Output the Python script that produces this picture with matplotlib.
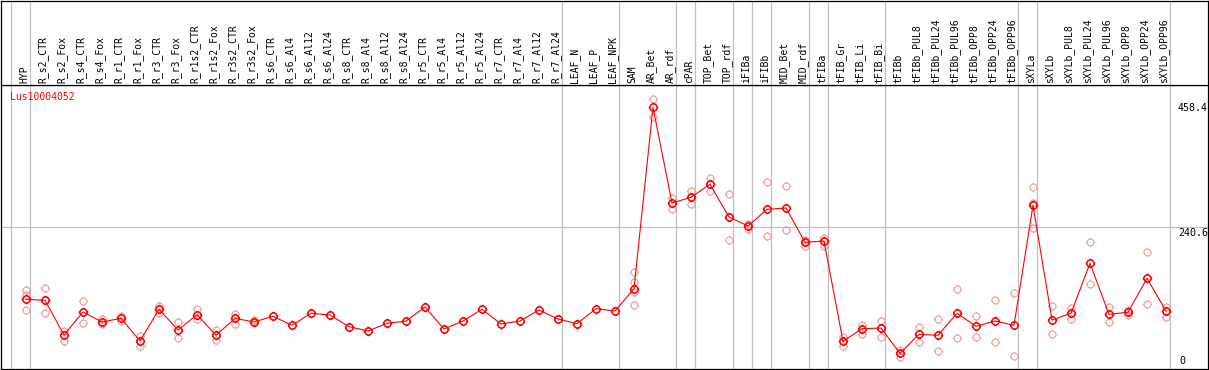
import matplotlib
matplotlib.use("Agg")
import matplotlib.pyplot as plt
from matplotlib.path import Path

gene = "Lus10004052"

samples = [
    "HYP",
    "R_s2_CTR", "R_s2_Fox", "R_s4_CTR", "R_s4_Fox", "R_r1_CTR", "R_r1_Fox",
    "R_r3_CTR", "R_r3_Fox", "R_r1s2_CTR", "R_r1s2_Fox", "R_r3s2_CTR", "R_r3s2_Fox",
    "R_s6_CTR", "R_s6_Al4", "R_s6_Al12", "R_s6_Al24",
    "R_s8_CTR", "R_s8_Al4", "R_s8_Al12", "R_s8_Al24",
    "R_r5_CTR", "R_r5_Al4", "R_r5_Al12", "R_r5_Al24",
    "R_r7_CTR", "R_r7_Al4", "R_r7_Al12", "R_r7_Al24",
    "LEAF_N", "LEAF_P", "LEAF_NPK",
    "SAM", "AR_Bet", "AR_rdf", "cPAR", "TOP_Bet", "TOP_rdf",
    "iFIBa", "iFIBb", "MID_Bet", "MID_rdf",
    "tFIBa", "tFIB_Gr", "tFIB_Li", "tFIB_Bi",
    "tFIBb", "tFIBb_PUL8", "tFIBb_PUL24", "tFIBb_PUL96",
    "tFIBb_OPP8", "tFIBb_OPP24", "tFIBb_OPP96",
    "sXYLa", "sXYLb", "sXYLb_PUL8", "sXYLb_PUL24", "sXYLb_PUL96",
    "sXYLb_OPP8", "sXYLb_OPP24", "sXYLb_OPP96",
]

means = [
    118.1,
    116.4, 57.6, 96.6, 79.7, 85.9, 47.5,
    101.2, 66.1, 92.0, 57.1, 85.9, 79.7,
    89.3, 74.1, 94.4, 91.5,
    71.7, 64.4, 77.4, 81.3,
    105.1, 67.8, 81.3, 101.2,
    76.3, 81.3, 100.0, 84.7,
    76.8, 102.2, 98.3,
    136.1, 443.5, 281.3, 291.0, 313.0, 257.6,
    242.3, 270.6, 272.8, 214.7,
    216.9, 46.9, 68.3, 69.5,
    26.6, 58.8, 57.1, 94.4,
    72.4, 81.3, 74.1,
    277.4, 83.0, 94.4, 179.1, 92.7,
    96.1, 153.7, 98.3,
]

replicates = [
    [133.9, 125.4, 100.0],
    [136.8, 95.4], [64.9, 48.0], [115.2, 77.4], [85.2, 75.8], [89.8, 81.3], [55.9, 39.0],
    [107.3, 95.4], [79.7, 52.0], [101.2, 84.7], [66.1, 49.1], [93.2, 76.8], [83.0, 77.4],
    [], [], [], [],
    [], [], [], [],
    [], [], [], [],
    [], [], [], [],
    [], [], [],
    [164.4, 147.4, 130.0, 108.0], [458.4, 427.6], [289.3, 271.7], [301.7, 279.1],
    [323.2, 301.1], [296.1, 218.1],
    [246.2, 237.8], [316.4, 224.9], [309.6, 235.1], [219.1, 209.0],
    [222.5, 208.4], [53.7, 39.5], [74.1, 59.3], [81.9, 53.7],
    [32.2, 20.8], [70.7, 45.2], [84.2, 30.0], [136.1, 52.0],
    [89.3, 53.7], [116.4, 45.2], [128.3, 21.5],
    [308.9, 281.8, 239.5], [106.8, 58.8], [103.4, 85.2], [215.7, 143.5], [105.6, 80.2],
    [100.0, 91.0], [197.8, 109.6], [105.6, 88.6],
]

# first column of each sample group
group_starts = [0, 1, 29, 32, 35, 36, 38, 39, 40, 42, 43, 46, 53, 54, 61]

y_max = 458.4
y_mid = 240.6

W, H = 1209, 370
RED = "#ff0000"
PINK = "#ee9c9c"
GREY = "#c0c0c0"
MONO = "DejaVu Sans Mono"


def box(x0, y0, x1, y1):
    # pixel box (origin top-left) -> figure fraction
    return [x0 / W, 1 - y1 / H, (x1 - x0) / W, (y1 - y0) / H]


# circle with four little ticks around it
circ = Path.unit_circle()
verts = list(circ.vertices)
codes = list(circ.codes)
for dx, dy in [(1, 0), (-1, 0), (0, 1), (0, -1)]:
    verts += [(dx, dy), (1.32 * dx, 1.32 * dy)]
    codes += [Path.MOVETO, Path.LINETO]
tick_circle = Path(verts, codes)

fig = plt.figure(figsize=(W / 100, H / 100), dpi=100)
ax = fig.add_axes(box(1, 85, 1208, 369))
head = fig.add_axes(box(1, 0.5, 1208, 85), sharex=ax)

xs = list(range(len(samples)))
ax.set_xlim(-25 / 19, 1182 / 19)
ax.set_ylim(0, y_max * 1.05)
head.set_ylim(0, 1)

for a in (ax, head):
    a.set_xticks([])
    a.set_yticks([])
    for s in a.spines.values():
        s.set_linewidth(0.9)
        s.set_color("black")
    for g in group_starts:
        a.axvline(g - 15 / 19, color=GREY, lw=0.9, zorder=0)

ax.axhline(y_mid, color=GREY, lw=0.9, zorder=0)

# replicates
for x, reps in zip(xs, replicates):
    if reps:
        ax.plot([x] * len(reps), reps, ls="none", marker=tick_circle, ms=6.6,
                mfc="none", mec=PINK, mew=0.8, zorder=2)

# means
ax.plot(xs, means, color=RED, lw=0.8, zorder=3)
ax.plot(xs, means, ls="none", marker=tick_circle, ms=6.8, mfc="none",
        mec=RED, mew=1.1, zorder=4)

ax.text(9 / 1207, 1 - 12 / 284, gene, transform=ax.transAxes, color=RED,
        family=MONO, fontsize=7, va="center", ha="left")

for x, lab in zip(xs, samples):
    head.text(x - 2 / 19, 0.025, lab, rotation=90, ha="center", va="bottom",
              family=MONO, fontsize=7)

lab_x = 60.63
ax.annotate(f"{y_max:.1f}", (lab_x, y_max), xytext=(0, -4), textcoords="offset pixels",
            family=MONO, fontsize=7.2, va="top", ha="left")
ax.annotate(f"{y_mid:.1f}", (lab_x, y_mid), xytext=(0, -1), textcoords="offset pixels",
            family=MONO, fontsize=7.2, va="top", ha="left")
ax.annotate("0", (lab_x + 0.05, 0), xytext=(0, 3), textcoords="offset pixels",
            family=MONO, fontsize=7.2, va="bottom", ha="left")

fig.savefig("out.png", dpi=100)
